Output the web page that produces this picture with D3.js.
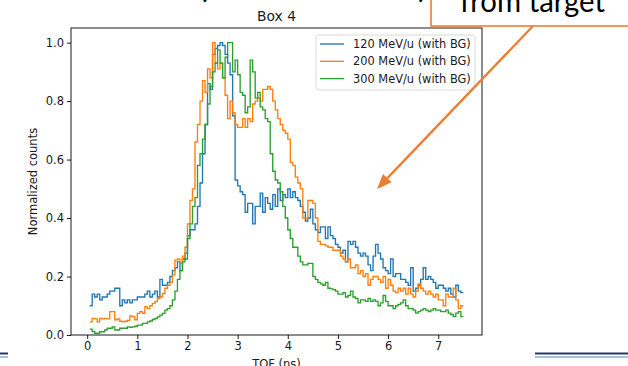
<!DOCTYPE html>
<html>
<head>
<meta charset="utf-8">
<script src="https://cdn.jsdelivr.net/npm/d3@7/dist/d3.min.js"></script>
<style>
  html, body { margin: 0; padding: 0; background: #fff; }
  svg { display: block; font-family: "DejaVu Sans", sans-serif; }
</style>
</head>
<body>
<svg id="chart"></svg>
<script>
// 1. Data (TOF histograms, bins of 0.05 ns starting at 0.05 ns)
const binStart = 0.05;
const binWidth = 0.05;

const xTicks = [0, 1, 2, 3, 4, 5, 6, 7];
const yTicks = [0, 0.2, 0.4, 0.6, 0.8, 1.0];

const seriesLabels = ["120 MeV/u (with BG)", "200 MeV/u (with BG)", "300 MeV/u (with BG)"];
const seriesColors = ["#1f77b4", "#ff7f0e", "#2ca02c"];

const counts120 = [
  0.10, 0.14, 0.13, 0.14, 0.12, 0.13, 0.13, 0.14, 0.15, 0.15,
  0.16, 0.16, 0.10, 0.12, 0.11, 0.12, 0.11, 0.12, 0.12, 0.13,
  0.13, 0.13, 0.14, 0.15, 0.13, 0.14, 0.15, 0.13, 0.19, 0.17,
  0.17, 0.18, 0.20, 0.22, 0.23, 0.25, 0.22, 0.26, 0.28, 0.34,
  0.36, 0.36, 0.38, 0.44, 0.52, 0.62, 0.72, 0.86, 0.84, 0.96,
  0.98, 0.99, 1.00, 0.99, 0.96, 0.93, 0.89, 0.75, 0.53, 0.51,
  0.49, 0.48, 0.42, 0.45, 0.45, 0.38, 0.44, 0.44, 0.485, 0.42,
  0.47, 0.45, 0.43, 0.48, 0.44, 0.50, 0.46, 0.48, 0.47, 0.50,
  0.47, 0.49, 0.47, 0.46, 0.44, 0.42, 0.39, 0.40, 0.43, 0.38,
  0.36, 0.35, 0.37, 0.37, 0.33, 0.37, 0.34, 0.33, 0.31, 0.30,
  0.28, 0.29, 0.25, 0.32, 0.31, 0.32, 0.30, 0.28, 0.27, 0.28,
  0.27, 0.24, 0.22, 0.27, 0.31, 0.28, 0.26, 0.23, 0.22, 0.21,
  0.26, 0.20, 0.21, 0.21, 0.19, 0.19, 0.18, 0.17, 0.23, 0.15,
  0.16, 0.17, 0.19, 0.23, 0.19, 0.20, 0.19, 0.18, 0.16, 0.17,
  0.17, 0.16, 0.15, 0.16, 0.14, 0.13, 0.17, 0.15, 0.145
];

const counts200 = [
  0.045, 0.057, 0.055, 0.045, 0.057, 0.055, 0.057, 0.055, 0.08, 0.08,
  0.052, 0.055, 0.047, 0.045, 0.047, 0.05, 0.065, 0.063, 0.052, 0.074,
  0.08, 0.074, 0.097, 0.09, 0.10, 0.108, 0.114, 0.125, 0.13, 0.142,
  0.16, 0.17, 0.18, 0.205, 0.256, 0.26, 0.245, 0.27, 0.30, 0.38,
  0.46, 0.50, 0.66, 0.72, 0.80, 0.87, 0.83, 0.91, 0.88, 1.00,
  0.93, 0.91, 0.93, 0.88, 0.82, 0.74, 0.80, 0.76, 0.72, 0.71,
  0.71, 0.74, 0.71, 0.74, 0.73, 0.79, 0.80, 0.81, 0.80, 0.84,
  0.84, 0.85, 0.84, 0.80, 0.77, 0.74, 0.72, 0.70, 0.69, 0.67,
  0.59, 0.58, 0.54, 0.52, 0.50, 0.40, 0.40, 0.46, 0.46, 0.45,
  0.40, 0.32, 0.31, 0.31, 0.305, 0.30, 0.30, 0.29, 0.29, 0.29,
  0.27, 0.26, 0.25, 0.26, 0.23, 0.23, 0.24, 0.21, 0.22, 0.20,
  0.21, 0.17, 0.19, 0.20, 0.20, 0.19, 0.18, 0.20, 0.16, 0.19,
  0.17, 0.15, 0.145, 0.16, 0.15, 0.16, 0.14, 0.16, 0.14, 0.13,
  0.15, 0.175, 0.16, 0.15, 0.14, 0.15, 0.14, 0.13, 0.14, 0.12,
  0.12, 0.10, 0.14, 0.13, 0.13, 0.16, 0.12, 0.09, 0.10
];

const counts300 = [
  0.02, 0.012, 0.006, 0.006, 0.011, 0.011, 0.017, 0.023, 0.023, 0.028,
  0.017, 0.017, 0.023, 0.023, 0.023, 0.028, 0.026, 0.028, 0.03, 0.034,
  0.034, 0.04, 0.04, 0.045, 0.048, 0.053, 0.057, 0.062, 0.068, 0.074,
  0.085, 0.09, 0.10, 0.12, 0.15, 0.19, 0.22, 0.25, 0.26, 0.33,
  0.38, 0.44, 0.47, 0.58, 0.62, 0.67, 0.72, 0.79, 0.85, 0.90,
  0.93, 0.975, 0.93, 0.88, 0.95, 1.00, 1.00, 0.90, 0.94, 0.89,
  0.83, 0.82, 0.76, 0.78, 0.94, 0.90, 0.81, 0.83, 0.78, 0.77,
  0.74, 0.73, 0.62, 0.56, 0.53, 0.52, 0.49, 0.44, 0.40, 0.36,
  0.33, 0.30, 0.30, 0.27, 0.25, 0.24, 0.24, 0.245, 0.245, 0.20,
  0.19, 0.18, 0.175, 0.17, 0.18, 0.16, 0.158, 0.155, 0.15, 0.14,
  0.14, 0.145, 0.13, 0.135, 0.15, 0.13, 0.125, 0.11, 0.12, 0.12,
  0.115, 0.125, 0.115, 0.12, 0.115, 0.10, 0.11, 0.135, 0.115, 0.10,
  0.10, 0.09, 0.10, 0.105, 0.11, 0.12, 0.10, 0.09, 0.09, 0.085,
  0.075, 0.08, 0.085, 0.09, 0.085, 0.08, 0.085, 0.09, 0.085, 0.085,
  0.08, 0.08, 0.085, 0.075, 0.07, 0.063, 0.075, 0.08, 0.063
];

const allSeries = [counts120, counts200, counts300];

// 2. Dimensions
const dims = {
  width: 628,
  height: 366,
  margin: { top: 28, right: 146, bottom: 31, left: 71 },
};
dims.containerWidth = dims.width - dims.margin.left - dims.margin.right;
dims.containerHeight = dims.height - dims.margin.top - dims.margin.bottom;

// 3. Container
const svg = d3.select("#chart")
  .attr("width", dims.width)
  .attr("height", dims.height);

const container = svg.append("g")
  .attr("transform", `translate(${dims.margin.left},${dims.margin.top})`);

// 4. Scales (matplotlib style 5% margins)
const xMin = binStart;
const xMax = binStart + binWidth * counts120.length;
const xPad = (xMax - xMin) * 0.05;
const xScale = d3.scaleLinear()
  .domain([xMin - xPad, xMax + xPad])
  .range([0, dims.containerWidth]);

const yScale = d3.scaleLinear()
  .domain([0, 1.05])
  .range([dims.containerHeight, 0]);

// 5. Draw step lines
const toPoints = (vals) => {
  const pts = vals.map((v, i) => [binStart + i * binWidth, v]);
  pts.push([binStart + vals.length * binWidth, vals[vals.length - 1]]);
  return pts;
};

const lineGenerator = d3.line()
  .x((d) => xScale(d[0]))
  .y((d) => yScale(d[1]))
  .curve(d3.curveStepAfter);

allSeries.forEach((vals, i) => {
  container.append("path")
    .datum(toPoints(vals))
    .attr("d", lineGenerator)
    .attr("fill", "none")
    .attr("stroke", seriesColors[i])
    .attr("stroke-width", 1.35)
    .attr("stroke-linejoin", "miter");
});

// 6. Axes
const xAxisGroup = container.append("g")
  .attr("transform", `translate(0,${dims.containerHeight})`)
  .call(d3.axisBottom(xScale).tickValues(xTicks).tickSize(4).tickPadding(3).tickFormat(d3.format("d")));

const yAxisGroup = container.append("g")
  .call(d3.axisLeft(yScale).tickValues(yTicks).tickSize(4).tickPadding(3).tickFormat(d3.format(".1f")));

[xAxisGroup, yAxisGroup].forEach((g) => {
  g.select(".domain").remove();
  g.selectAll(".tick line").attr("stroke", "#000").attr("stroke-width", 0.9);
  g.selectAll(".tick text")
    .attr("fill", "#1a1a1a")
    .style("font-size", "11.5px")
    .style("font-family", "DejaVu Sans, sans-serif");
});

// frame
container.append("rect")
  .attr("width", dims.containerWidth)
  .attr("height", dims.containerHeight)
  .attr("fill", "none")
  .attr("stroke", "#000")
  .attr("stroke-width", 0.9);

// title and axis labels
container.append("text")
  .attr("x", dims.containerWidth / 2)
  .attr("y", -7)
  .attr("text-anchor", "middle")
  .attr("fill", "#1a1a1a")
  .style("font-size", "13.8px")
  .text("Box 4");

container.append("text")
  .attr("x", dims.containerWidth / 2)
  .attr("y", dims.containerHeight + 33)
  .attr("text-anchor", "middle")
  .attr("fill", "#1a1a1a")
  .style("font-size", "11.5px")
  .text("TOF (ns)");

container.append("text")
  .attr("transform", `translate(-34,${dims.containerHeight / 2}) rotate(-90)`)
  .attr("text-anchor", "middle")
  .attr("fill", "#1a1a1a")
  .style("font-size", "11.5px")
  .text("Normalized counts");

// Legend
const legend = container.append("g")
  .attr("transform", `translate(${dims.containerWidth - 166},7)`);

legend.append("rect")
  .attr("width", 159)
  .attr("height", 55)
  .attr("rx", 3)
  .attr("fill", "#fff")
  .attr("fill-opacity", 0.8)
  .attr("stroke", "#d5d5d5")
  .attr("stroke-width", 0.9);

seriesLabels.forEach((label, i) => {
  const row = legend.append("g").attr("transform", `translate(0,${9 + i * 17.3})`);
  row.append("line")
    .attr("x1", 4).attr("x2", 28)
    .attr("stroke", seriesColors[i])
    .attr("stroke-width", 1.35);
  row.append("text")
    .attr("x", 37)
    .attr("y", 4)
    .attr("fill", "#1a1a1a")
    .style("font-size", "11.4px")
    .text(label);
});

// Slide decorations around the chart
const accent = "#ED7D31";

svg.append("text").attr("x", 198).attr("y", -3)
  .style("font-family", "Lato, sans-serif").style("font-size", "36px")
  .attr("fill", "#000").text("(");
svg.append("text").attr("x", 418).attr("y", -3)
  .style("font-family", "Lato, sans-serif").style("font-size", "36px")
  .attr("fill", "#000").text(")");

svg.append("rect")
  .attr("x", 431).attr("y", -40)
  .attr("width", 230).attr("height", 66)
  .attr("fill", "#fff")
  .attr("stroke", accent)
  .attr("stroke-width", 1.6);

svg.append("text")
  .attr("x", 460).attr("y", 12)
  .attr("textLength", 145)
  .attr("lengthAdjust", "spacingAndGlyphs")
  .style("font-family", "Lato, sans-serif")
  .style("font-size", "30px")
  .attr("fill", "#000")
  .text("from target");

// arrow from the box
const a0 = [533, 26], a1 = [377, 189];
const dx = a1[0] - a0[0], dy = a1[1] - a0[1];
const len = Math.hypot(dx, dy);
const ux = dx / len, uy = dy / len;
const headLen = 15, headW = 6;
const base = [a1[0] - ux * headLen, a1[1] - uy * headLen];
svg.append("line")
  .attr("x1", a0[0]).attr("y1", a0[1])
  .attr("x2", base[0]).attr("y2", base[1])
  .attr("stroke", accent)
  .attr("stroke-width", 2.3);
svg.append("polygon")
  .attr("points", [
    a1,
    [base[0] - uy * headW, base[1] + ux * headW],
    [base[0] + uy * headW, base[1] - ux * headW],
  ].map((p) => p.join(",")).join(" "))
  .attr("fill", accent);

// footer rules of the slide
[[0, 8], [535, 628]].forEach(([x1, x2]) => {
  svg.append("line").attr("x1", x1).attr("x2", x2).attr("y1", 353.5).attr("y2", 353.5)
    .attr("stroke", "#1F3A6E").attr("stroke-width", 2);
  svg.append("line").attr("x1", x1).attr("x2", x2).attr("y1", 357).attr("y2", 357)
    .attr("stroke", "#5B7DB8").attr("stroke-width", 1);
});
</script>
</body>
</html>
